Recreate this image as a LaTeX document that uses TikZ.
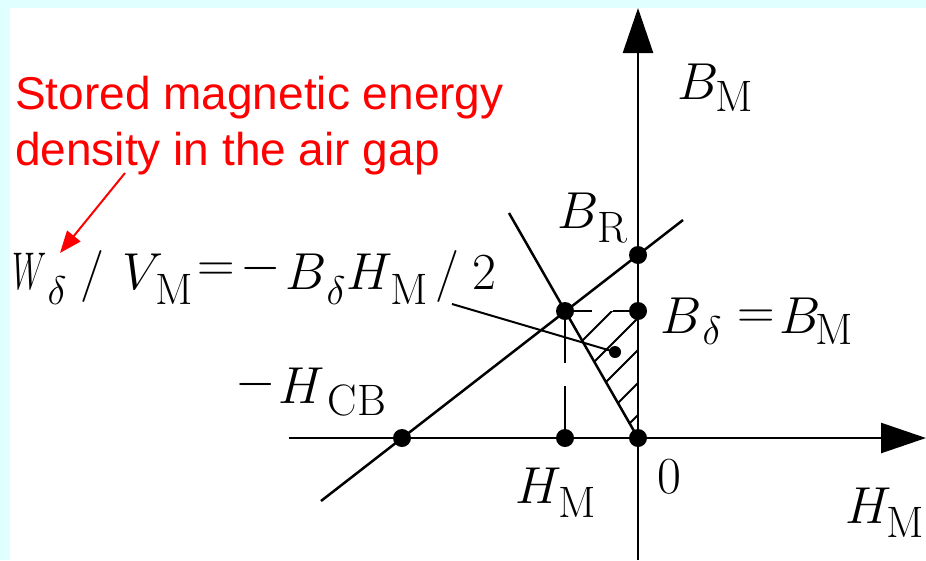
\documentclass[tikz,border=0pt]{standalone}
\usepackage{fix-cm}
\usepackage{fontspec}
\newfontfamily\arialf{Liberation Sans}
\usetikzlibrary{arrows.meta}
\definecolor{bgcyan}{RGB}{224,255,255}
\newcommand{\putat}[2]{\makebox[0pt][l]{\hspace*{#1pt}#2}}
\newcommand{\sbx}[2][13]{\raisebox{-#1pt}{\fontsize{44}{48}\selectfont #2}}
\newcommand{\sbd}[1][13]{\raisebox{-#1pt}{\fontsize{40}{44}\selectfont $\delta$}}
\newcommand{\bigf}{\fontsize{52}{58}\selectfont}
\tikzset{
  axisline/.style={line width=2.5pt, -{Triangle[length=45pt,width=30pt]}},
  ln/.style={line width=2.5pt},
  hl/.style={line width=2pt},
  dot/.style={circle, fill=black, inner sep=0pt, minimum size=18pt},
  sdot/.style={circle, fill=black, inner sep=0pt, minimum size=12pt},
  lbl/.style={anchor=base west, inner sep=0pt, font=\bigf},
  redlbl/.style={anchor=base west, inner sep=0pt, text=red, font=\arialf\fontsize{46}{54}\selectfont},
  redarrow/.style={draw=red, line width=2pt, -{Triangle[length=22pt,width=17pt]}}
}
\begin{document}
\begin{tikzpicture}[x=1pt,y=-1pt]
\useasboundingbox (0,0) rectangle (926,560);
\fill[white] (0,0) rectangle (926,560);
\fill[bgcyan] (0,0) rectangle (926,8);
\fill[bgcyan] (0,0) rectangle (10,560);

% coordinates
\coordinate (ybot) at (638,560);
\coordinate (ytop) at (638,8);
\coordinate (xl) at (289,438);
\coordinate (xr) at (926,438);
\coordinate (lb) at (321,501);
\coordinate (lt) at (683,220);
\coordinate (gt) at (509,213);
\coordinate (ps) at (452,304);
\coordinate (ra) at (125,173);
\coordinate (rb) at (60,253);

% hatching
\begin{scope}
\clip (565,311) -- (638,311) -- (638,438) -- cycle;
\foreach \yy in {285,318,350,383,415} \draw[hl] (638,\yy) -- ++(-200,200);
\end{scope}

% axes
\draw[axisline] (ybot) -- (ytop);
\draw[axisline] (xl) -- (xr);

% dots
\node[dot] (hcb) at (402,438) {};
\node[dot] (hm) at (565,438) {};
\node[dot] (o) at (638,438) {};
\node[dot] (br) at (638,255) {};
\node[dot] (bd) at (638,311) {};
\node[dot] (p) at (565,311) {};
\node[sdot] (w) at (615,352) {};

% lines
\draw[ln] (lb) -- (lt);
\draw[ln] (gt) -- (o.center);
\draw[ln] (p.center) -- (565,363);
\draw[ln] (565,386) -- (hm.center);
\draw[ln] (p.center) -- (592,311);
\draw[ln] (613,311) -- (bd.center);
\draw[hl] (ps) -- (w.center);
\draw[redarrow] (ra) -- (rb);

% labels
\node[redlbl] (t1) at (15,109) {Stored magnetic energy};
\node[redlbl] (t2) at (15,165) {density in the air gap};

\node[lbl] (form) at (0,289) {\putat{12}{\scalebox{0.62}[1.02]{$W$}}\putat{47}{\sbd[15]}\putat{80}{$/$}\putat{122}{$V$}\putat{155}{\sbx[15]{M}}\putat{197}{\raisebox{8pt}{$=$}}\putat{240}{\raisebox{8pt}{$-$}}\putat{285}{$B$}\putat{326}{\sbd[15]}\putat{346}{$H$}\putat{390}{\sbx[15]{M}}\putat{435}{$/$}\putat{472}{2}};

\node[lbl] (bdl) at (0,333) {\putat{660}{$B$}\putat{702}{\sbd[11]}\putat{737}{\raisebox{5pt}{$=$}}\putat{779}{$B$}\putat{815}{\sbx[11]{M}}};
\node[lbl] (hcbl) at (0,403) {\putat{235}{\raisebox{6pt}{$-$}}\putat{278}{$H$}\putat{327}{\sbx[12]{CB}}};
\node[lbl] (hml) at (0,503) {\putat{515}{$H$}\putat{558}{\sbx[14]{M}}};
\node[lbl] (ol) at (0,493) {\putat{657}{0}};
\node[lbl] (hmr) at (0,523) {\putat{845}{$H$}\putat{886}{\sbx[14]{M}}};
\node[lbl] (brl) at (0,228) {\putat{557}{$B$}\putat{597}{\sbx[14]{R}}};
\node[lbl] (bml) at (0,99) {\putat{677}{$B$}\putat{715}{\sbx[12]{M}}};
\end{tikzpicture}
\end{document}
